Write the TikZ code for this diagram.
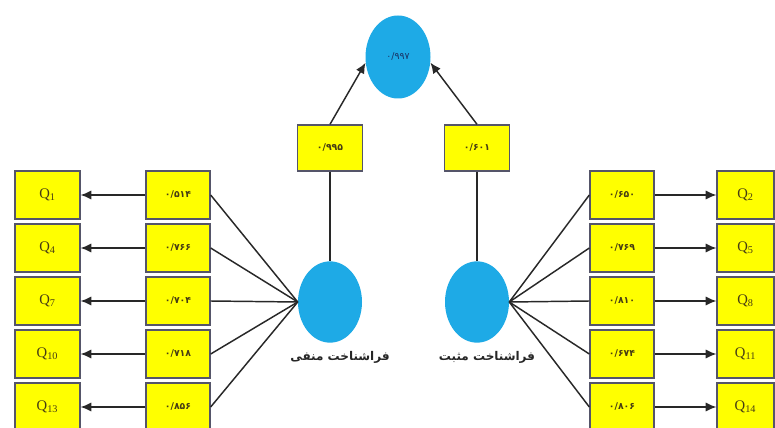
\documentclass[tikz,border=0pt]{standalone}
\usepackage{fontspec}
\setmainfont{Liberation Serif}
\newfontfamily\fa[Script=Arabic]{DejaVu Sans}
\newfontfamily\fanum{DejaVu Sans}
\TeXXeTstate=1
\usetikzlibrary{arrows.meta,shapes.geometric}
\definecolor{boxyellow}{RGB}{255,255,0}
\definecolor{boxedge}{RGB}{85,85,105}
\definecolor{ellblue}{RGB}{30,170,230}
\definecolor{linegray}{RGB}{40,40,40}
\definecolor{numcol}{RGB}{70,60,20}
\definecolor{topnum}{RGB}{25,50,100}
\newcommand{\qlab}[1]{Q\textsubscript{#1}}
\begin{document}
\begin{tikzpicture}[x=0.75pt,y=-0.75pt,
  qbox/.style={draw=boxedge,fill=boxyellow,line width=1pt,minimum width=48.75pt,minimum height=36pt,inner sep=0pt,font=\fontsize{11}{12}\selectfont,text=numcol},
  rqbox/.style={qbox,minimum width=42.75pt},
  vbox/.style={draw=boxedge,fill=boxyellow,line width=1pt,minimum width=48pt,minimum height=36pt,inner sep=0pt,font=\fanum\bfseries\fontsize{7}{8}\selectfont,text=numcol},
  mbox/.style={vbox,minimum width=48.75pt,minimum height=34.5pt},
  latent/.style={ellipse,fill=ellblue,minimum width=48pt,minimum height=61pt,inner sep=0pt},
  link/.style={draw=linegray,line width=1.1pt},
  arr/.style={link,-{Latex[length=8pt,width=7pt]}},
  lab/.style={font=\fa\bfseries\fontsize{9}{11}\selectfont,text=black!85}
]
\useasboundingbox (0,0) rectangle (775,428);
\fill[white] (0,0) rectangle (775,428);

% top latent
\node[latent,minimum width=48.75pt,minimum height=62.25pt,font=\fanum\fontsize{7}{8}\selectfont,text=topnum] (top) at (398,57) {۰/۹۹۷};

% middle boxes
\node[mbox] (m1) at (330,148) {۰/۹۹۵};
\node[mbox] (m2) at (477,148) {۰/۶۰۱};

% lower latents
\node[latent] (e1) at (330,302) {};
\node[latent] (e2) at (477,302) {};
\node[lab] (l1) at (340,357) {\beginR فراشناخت منفی\endR};
\node[lab] (l2) at (487,357) {\beginR فراشناخت مثبت\endR};

% left side
\node[qbox] (q1) at (47.5,195) {\qlab{1}};
\node[qbox] (q2) at (47.5,248) {\qlab{4}};
\node[qbox] (q3) at (47.5,301) {\qlab{7}};
\node[qbox] (q4) at (47.5,354) {\qlab{10}};
\node[qbox] (q5) at (47.5,407) {\qlab{13}};
\node[vbox] (v1) at (178,195) {۰/۵۱۴};
\node[vbox] (v2) at (178,248) {۰/۷۶۶};
\node[vbox] (v3) at (178,301) {۰/۷۰۴};
\node[vbox] (v4) at (178,354) {۰/۷۱۸};
\node[vbox] (v5) at (178,407) {۰/۸۵۶};

% right side
\node[vbox] (w1) at (622,195) {۰/۶۵۰};
\node[vbox] (w2) at (622,248) {۰/۷۶۹};
\node[vbox] (w3) at (622,301) {۰/۸۱۰};
\node[vbox] (w4) at (622,354) {۰/۶۷۴};
\node[vbox] (w5) at (622,407) {۰/۸۰۶};
\node[rqbox] (r1) at (745.5,195) {\qlab{2}};
\node[rqbox] (r2) at (745.5,248) {\qlab{5}};
\node[rqbox] (r3) at (745.5,301) {\qlab{8}};
\node[rqbox] (r4) at (745.5,354) {\qlab{11}};
\node[rqbox] (r5) at (745.5,407) {\qlab{14}};

% connectors
\draw[arr] (m1.north) -- (top.190);
\draw[arr] (m2.north) -- (top.-10);
\draw[link] (m1.south) -- (e1.north);
\draw[link] (m2.south) -- (e2.north);
\foreach \i in {1,...,5}{
  \draw[arr] (v\i.west) -- (q\i.east);
  \draw[link] (v\i.east) -- (e1.west);
  \draw[link] (e2.east) -- (w\i.west);
  \draw[arr] (w\i.east) -- (r\i.west);
}
\end{tikzpicture}
\end{document}
